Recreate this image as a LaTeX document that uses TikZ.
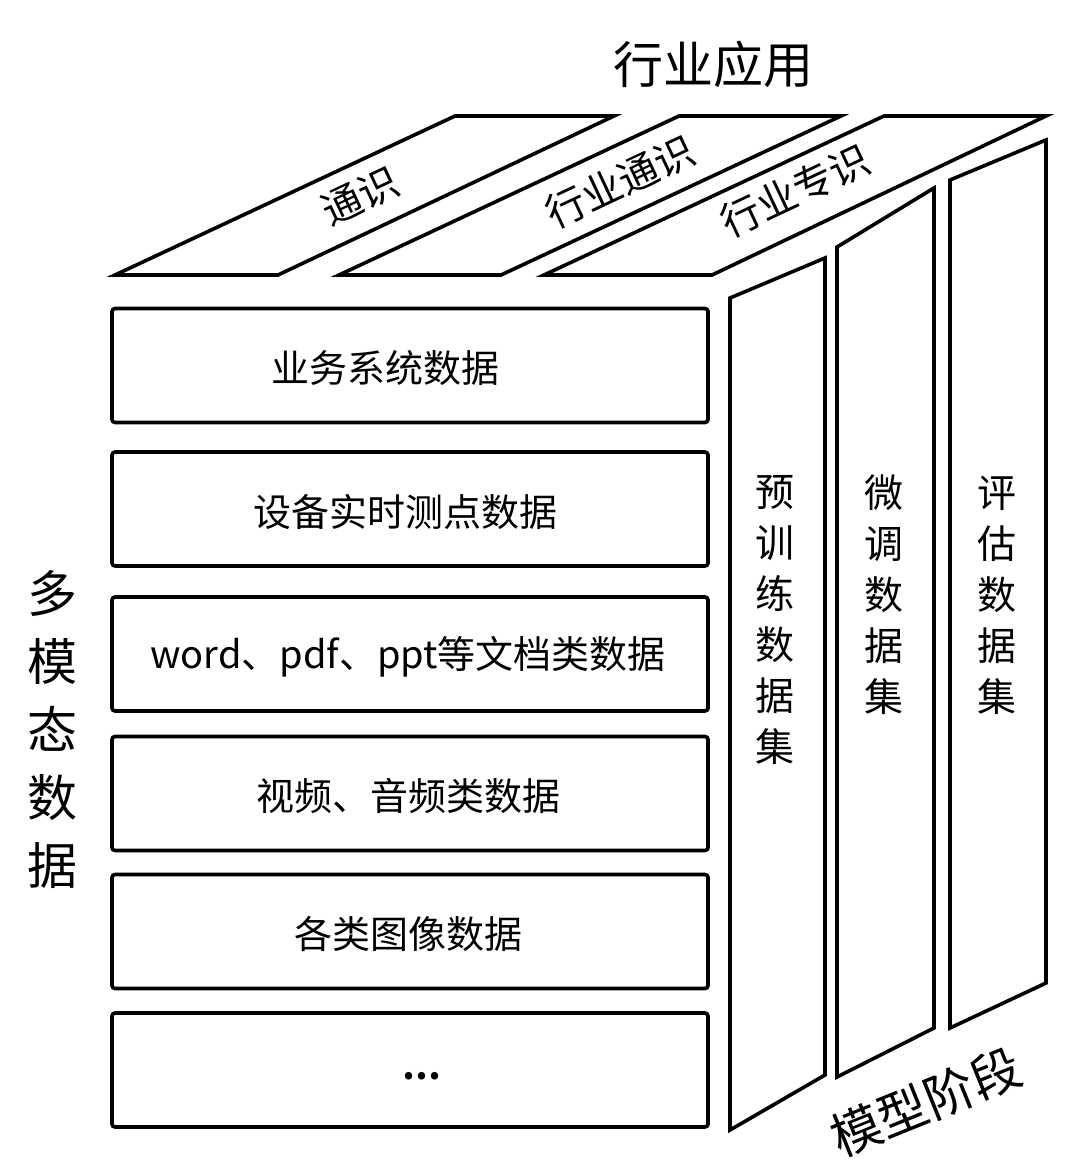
\documentclass[tikz,border=0pt]{standalone}
\usepackage{fontspec}
\setmainfont{Noto Sans CJK SC}[BoldFont={Noto Sans CJK SC Bold}]
\usepackage{tikz}
\usetikzlibrary{positioning,calc}
\tikzset{
  databox/.style={draw, line width=1.8pt, rounded corners=1.5pt, minimum width=298pt,
                  minimum height=57pt, inner sep=0pt},
  sheet/.style={draw, line width=1.8pt, line join=miter},
  boxtext/.style={inner sep=0pt, font=\fontsize{19}{21}\selectfont},
  vlabel/.style={align=center, inner sep=0pt, font=\fontsize{19.5}{25.5}\selectfont}
}

\begin{document}
\begin{tikzpicture}[x=0.5pt, y=-0.5pt,
      toplabel/.style={inner sep=0pt, rotate=25.2, font=\fontsize{20}{22}\selectfont},
      biglabel/.style={inner sep=0pt, font=\fontsize{25}{34}\selectfont, align=center}
    ]
    \useasboundingbox (0,0) rectangle (1080,1160);
    \def\xB{410}

    % Top sheets
    \draw[sheet] (115,275) -- (278,275) -- (614,116) -- (455,116) -- cycle;
    \draw[sheet] (339,275) -- (501,275) -- (841,116) -- (679,116) -- cycle;
    \draw[sheet] (544,275) -- (712,275) -- (1046,116) -- (884,116) -- cycle;
    \node[biglabel] (app) at (713,64) {行业应用};
    \node[toplabel] (gen)     at (360,196) {通识};
    \node[toplabel] (indgen)  at (620,182) {行业通识};
    \node[toplabel] (indspec) at (795,191) {行业专识};

    % Data boxes
    \node[databox] (biz)  at (\xB,365.5) {};
    \node[databox] (dev)  at (\xB,509)   {};
    \node[databox] (doc)  at (\xB,654)   {};
    \node[databox] (av)   at (\xB,793.5) {};
    \node[databox] (img)  at (\xB,931.5) {};
    \node[databox] (more) at (\xB,1070)  {};
    \node[boxtext] at (385,368) {业务系统数据};
    \node[boxtext] at (405,512) {设备实时测点数据};
    \node[boxtext] at (408,657) {word、pdf、ppt等文档类数据};
    \node[boxtext] at (408,796) {视频、音频类数据};
    \node[boxtext] at (408,934) {各类图像数据};
    \node[boxtext, font=\fontsize{20}{22}\selectfont\bfseries] at (422,1076) {...};
    \node[biglabel] (mm) at (52,729) {多\\模\\态\\数\\据};

    % Side panels
    \draw[sheet] (730,298) -- (825,258) -- (825,1075) -- (730,1130) -- cycle;
    \draw[sheet] (837,247) -- (934,188) -- (934,1028) -- (837,1077) -- cycle;
    \draw[sheet] (950,180) -- (1046,140) -- (1046,983) -- (950,1028) -- cycle;
    \node[vlabel] (pre) at (775,620) {预\\训\\练\\数\\据\\集};
    \node[vlabel] (ft)  at (884,595) {微\\调\\数\\据\\集};
    \node[vlabel] (ev)  at (997,595) {评\\估\\数\\据\\集};
    \node[biglabel, rotate=22] (stage) at (926,1102) {模型阶段};
  \end{tikzpicture}
\end{document}
